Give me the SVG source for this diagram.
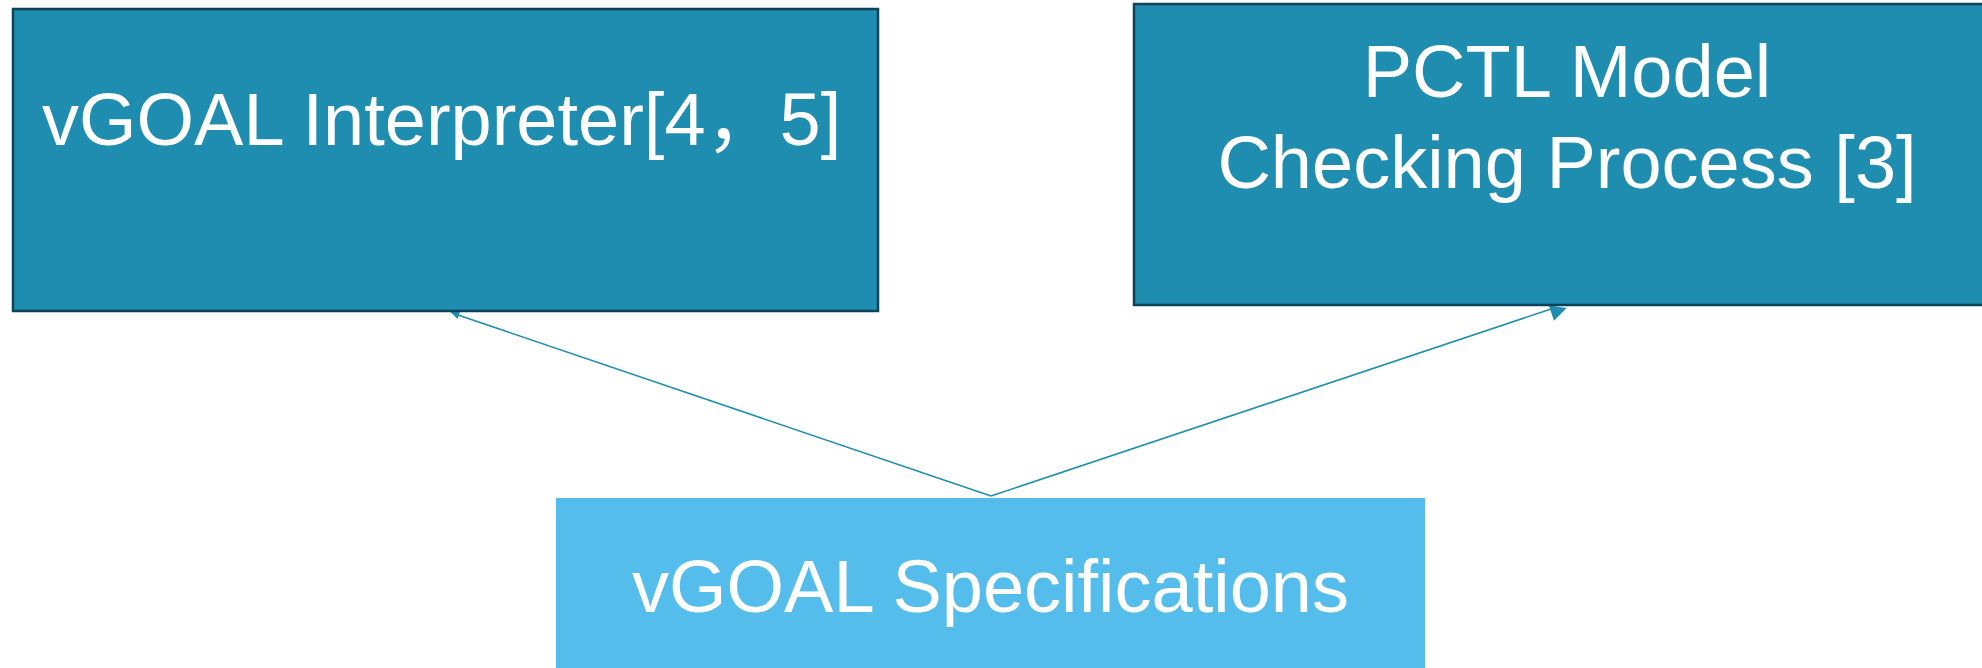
<svg xmlns="http://www.w3.org/2000/svg" width="1982" height="668" viewBox="0 0 1982 668">
<style>
.box{fill:#1F8DB0;stroke:#0E4256;stroke-width:2.5}
.box3{fill:#55BDEC}
.t{font-family:"Liberation Sans","Noto Sans CJK SC",sans-serif;font-size:74px;fill:#FFFFFF}
.c{stroke:#1F8DB0;stroke-width:1.6;fill:none}
</style>
<defs>
<marker id="ah" viewBox="0 0 10 10" refX="9" refY="5" markerWidth="8" markerHeight="8" markerUnits="userSpaceOnUse" orient="auto" overflow="visible">
<path d="M0,0 L10,5 L0,10 Z" fill="#1F8DB0" transform="scale(2)" />
</marker>
</defs>
<rect width="1982" height="668" fill="#FFFFFF"/>
<g id="connectors">
<line class="c" x1="991" y1="496" x2="452" y2="313" marker-end="url(#ah)"/>
<line class="c" x1="991" y1="496" x2="1557" y2="307" marker-end="url(#ah)"/>
</g>
<g id="node-interpreter">
<rect class="box" x="13" y="9" width="865" height="302"/>
<text class="t" x="42" y="145">vGOAL Interpreter[4，5]</text>
</g>
<g id="node-pctl">
<rect class="box" x="1134" y="4" width="866" height="301"/>
<text class="t" x="1567" y="97" text-anchor="middle">PCTL Model</text>
<text class="t" x="1567" y="188" text-anchor="middle">Checking Process [3]</text>
</g>
<g id="node-spec">
<rect class="box3" x="556" y="498" width="869" height="180"/>
<text class="t" x="990.5" y="612" text-anchor="middle">vGOAL Specifications</text>
</g>
</svg>
